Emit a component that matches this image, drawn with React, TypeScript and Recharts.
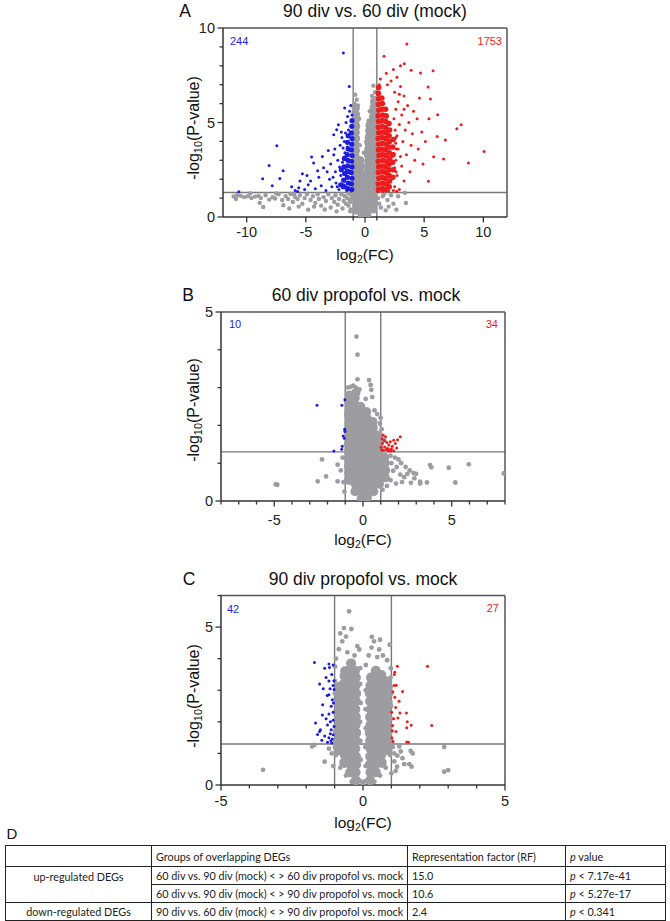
import React from "react";
import { ScatterChart, Scatter, XAxis, YAxis, ReferenceLine } from "recharts";

type Pt = [number, number];

// ---------- panel A: 90 div vs. 60 div (mock) ----------
const aGrayCore: Pt[] = [
  [-0.78, 0.35], [-0.74, 0.68], [-0.8, 1.0], [-0.76, 1.3], [-0.79, 1.62], [-0.75, 1.95], [-0.8, 2.25], [-0.77, 2.58], [-0.74, 2.9],
  [-0.79, 3.2], [-0.76, 3.52], [-0.8, 3.85], [-0.75, 4.15], [-0.78, 4.48], [-0.74, 4.8], [-0.79, 5.1], [-0.76, 5.42], [-0.78, 5.75],
  [-0.3, 0.15], [-0.27, 0.45], [-0.33, 0.78], [-0.29, 1.1], [-0.32, 1.4], [-0.28, 1.72], [-0.31, 2.05], [-0.34, 2.35], [-0.36, 2.7], [-0.4, 3.0],
  [0.2, 0.1], [0.24, 0.42], [0.21, 0.75], [0.25, 1.05], [0.2, 1.38], [0.23, 1.7], [0.26, 2.0], [0.21, 2.32], [0.24, 2.65], [0.27, 2.95],
  [0.25, 3.28], [0.28, 3.6], [0.3, 3.9], [0.32, 4.22], [0.35, 4.55], [0.38, 4.85],
  [0.7, 0.4], [0.74, 0.72], [0.71, 1.05], [0.75, 1.35], [0.72, 1.68], [0.7, 2.0], [0.74, 2.3], [0.73, 2.62], [0.71, 2.95], [0.75, 3.25],
  [0.72, 3.58], [0.74, 3.9], [0.7, 4.2], [0.73, 4.52], [0.75, 4.85], [0.72, 5.15], [0.74, 5.48], [0.73, 5.8], [0.76, 6.1],
];
const aGray: Pt[] = [
  [-0.82, 6.47], [-0.7, 6.2], [-0.9, 6.0], [-0.6, 5.9], [-0.95, 5.5], [-0.5, 5.2], [0.71, 6.95], [0.85, 6.6], [0.6, 6.4], [0.9, 6.3],
  [0.4, 5.6], [0.5, 5.3], [0.3, 5.1], [0.1, 4.0], [-0.1, 3.4], [-0.45, 3.8], [0.95, 5.9], [0.95, 5.0], [-0.98, 4.8], [-0.98, 3.9],
  [-0.98, 2.6], [0.97, 4.2], [0.97, 3.1], [0.97, 2.0], [-1.1, 1.0], [-1.25, 0.8], [-1.4, 0.6], [-1.2, 0.4], [1.1, 1.0], [1.2, 0.7],
  [1.35, 0.5], [1.5, 1.1], [0.0, 0.02], [-0.1, 0.2], [0.1, 0.25], [1.75, 0.35], [2.65, 0.39], [3.46, 0.74], [3.37, 1.28], [2.2, 1.15],
  [1.9, 0.9], [2.4, 0.7], [1.6, 1.2], [2.8, 1.1], [2.0, 0.55],
  [-11.1, 1.09], [-10.8, 1.15], [-10.5, 1.12], [-10.2, 1.05], [-9.9, 1.1], [-9.6, 1.0], [-9.3, 1.08], [-9.0, 1.12], [-8.8, 1.0],
  [-8.6, 0.53], [-8.4, 1.15], [-8.1, 0.92], [-7.8, 1.05], [-7.6, 0.98], [-7.3, 1.2], [-7.0, 0.9], [-6.9, 0.62], [-6.7, 1.1],
  [-6.5, 0.95], [-6.3, 1.22], [-6.1, 0.8], [-5.9, 1.05], [-5.7, 0.95], [-5.5, 1.15], [-5.3, 0.7], [-5.1, 1.0], [-4.9, 1.2],
  [-4.8, 0.39], [-4.6, 0.9], [-4.4, 1.1], [-4.2, 0.75], [-4.0, 1.2], [-3.9, 0.95], [-3.7, 0.6], [-3.5, 1.05], [-3.3, 0.85],
  [-3.1, 1.2], [-2.9, 0.5], [-2.8, 1.0], [-2.6, 0.8], [-2.5, 1.15], [-2.3, 0.65], [-2.2, 0.95], [-2.0, 1.2], [-1.9, 0.45],
  [-1.8, 0.85], [-1.7, 1.1], [-1.6, 0.7], [-1.5, 1.0], [-1.4, 1.25], [-1.3, 0.9], [-1.25, 0.3], [-1.15, 1.15], [-6.0, 1.2],
  [-7.5, 1.25], [-9.7, 1.25], [-8.9, 0.75], [-5.6, 0.55], [-3.4, 0.4], [-2.4, 0.3], [-4.3, 0.55], [-6.4, 0.45], [-10.9, 0.95],
];
const aBlueCore: Pt[] = [
  [-1.12, 1.45], [-1.15, 1.75], [-1.1, 2.05], [-1.16, 2.35], [-1.1, 2.65], [-1.14, 2.95], [-1.1, 3.25], [-1.15, 3.55], [-1.12, 3.85],
  [-1.1, 4.15], [-1.16, 4.45], [-1.12, 4.8], [-1.1, 5.1],
  [-1.45, 1.5], [-1.42, 1.8], [-1.48, 2.1], [-1.4, 2.4], [-1.46, 2.7], [-1.44, 3.0], [-1.5, 3.3], [-1.42, 3.6], [-1.48, 3.95], [-1.42, 4.3],
  [-1.75, 1.6], [-1.8, 1.95], [-1.72, 2.3], [-1.78, 2.65], [-1.74, 3.1], [-2.05, 1.7], [-2.0, 2.5],
];
const aBlue: Pt[] = [
  [-10.66, 1.33], [-8.65, 2.03], [-8.1, 2.73], [-7.84, 1.66], [-7.45, 3.77], [-7.2, 2.04], [-6.92, 2.45], [-5.9, 1.4], [-5.6, 1.55],
  [-5.29, 2.29], [-5.1, 1.45], [-4.8, 1.7], [-4.51, 3.17], [-4.34, 2.86], [-4.6, 1.9], [-4.2, 1.5], [-3.9, 2.1], [-3.7, 1.65],
  [-3.5, 2.6], [-3.3, 1.4], [-3.1, 3.52], [-3.0, 2.0], [-2.9, 2.8], [-2.8, 1.6], [-2.64, 3.3], [-2.64, 4.35], [-2.5, 2.4],
  [-2.45, 1.8], [-2.39, 4.62], [-2.25, 4.88], [-2.3, 3.0], [-2.2, 1.45], [-2.1, 3.8], [-2.05, 2.2], [-1.95, 4.2], [-1.9, 2.9],
  [-1.83, 8.68], [-1.72, 5.77], [-1.7, 3.4], [-1.6, 5.0], [-1.47, 5.32], [-1.4, 4.6], [-1.33, 6.91], [-1.3, 5.6], [-1.2, 5.9],
  [-1.1, 5.4], [-1.8, 1.7], [-1.6, 2.5], [-1.75, 4.0], [-1.55, 1.4], [-3.6, 3.2], [-4.0, 2.45], [-5.5, 1.9], [-6.2, 1.6],
  [-2.7, 2.1], [-3.2, 2.4], [-2.15, 2.65], [-1.9, 1.55], [-2.35, 1.6], [-5.7, 1.35], [-4.9, 2.2], [-2.55, 3.6], [-2.0, 4.5],
  [-1.85, 3.65], [-1.65, 4.45], [-1.5, 3.7],
];
const aRedCore: Pt[] = [
  [1.15, 1.45], [1.12, 1.75], [1.17, 2.05], [1.13, 2.35], [1.16, 2.65], [1.12, 2.95], [1.18, 3.25], [1.14, 3.55], [1.16, 3.85],
  [1.12, 4.15], [1.17, 4.45], [1.13, 4.75], [1.15, 5.05], [1.12, 5.35], [1.17, 5.65], [1.14, 5.95], [1.16, 6.25], [1.13, 6.55], [1.15, 6.85],
  [1.45, 1.5], [1.48, 1.8], [1.43, 2.1], [1.47, 2.4], [1.44, 2.7], [1.49, 3.0], [1.45, 3.3], [1.42, 3.6], [1.47, 3.9], [1.44, 4.2],
  [1.48, 4.5], [1.43, 4.8], [1.46, 5.1], [1.49, 5.4], [1.44, 5.7], [1.47, 6.0], [1.42, 6.3],
  [1.75, 1.45], [1.78, 1.75], [1.73, 2.05], [1.77, 2.35], [1.74, 2.65], [1.79, 2.95], [1.75, 3.25], [1.72, 3.55], [1.77, 3.85],
  [1.74, 4.15], [1.78, 4.45], [1.73, 4.75], [1.76, 5.05], [1.79, 5.35], [1.74, 5.7],
  [2.05, 1.6], [2.08, 1.9], [2.03, 2.2], [2.07, 2.5], [2.04, 2.8], [2.09, 3.1], [2.05, 3.4], [2.02, 3.7], [2.07, 4.0], [2.04, 4.3],
  [2.08, 4.6], [2.03, 4.95], [2.35, 2.1], [2.38, 2.5], [2.33, 2.9], [2.37, 3.3], [2.34, 3.7], [2.39, 4.1],
];
const aRed: Pt[] = [
  [3.54, 9.15], [1.61, 8.5], [3.32, 8.11], [3.9, 7.76], [4.69, 7.62], [5.75, 7.74], [5.33, 6.88], [5.53, 6.24], [5.4, 5.2],
  [6.14, 5.41], [8.13, 4.88], [7.76, 4.67], [6.1, 4.26], [6.79, 4.07], [10.06, 3.47], [5.8, 3.19], [6.64, 3.07], [8.74, 2.86],
  [5.36, 1.89], [2.7, 7.4], [2.2, 7.2], [1.3, 7.3], [1.9, 7.0], [3.0, 6.9], [2.5, 6.6], [3.3, 6.4], [2.8, 6.1], [3.6, 5.9],
  [4.1, 5.6], [2.6, 5.7], [3.1, 5.4], [3.7, 5.0], [4.4, 5.2], [2.9, 4.9], [3.4, 4.6], [4.0, 4.4], [4.8, 4.5], [2.7, 4.3],
  [3.2, 4.0], [3.9, 3.8], [4.5, 3.6], [2.8, 3.6], [3.5, 3.3], [4.2, 3.0], [2.6, 3.0], [3.1, 2.7], [3.8, 2.4], [2.7, 2.2],
  [3.3, 1.9], [2.5, 1.6], [2.9, 1.45], [2.68, 1.36], [2.4, 1.4], [4.9, 2.8], [5.1, 4.0], [4.6, 6.3], [3.0, 8.0], [2.4, 7.8],
  [1.8, 7.6], [1.2, 7.0], [2.45, 5.2], [2.55, 4.6], [2.6, 3.9], [2.5, 2.6], [3.0, 3.2], [3.3, 5.7], [2.9, 6.5], [1.05, 6.6],
  [1.05, 1.35], [1.5, 1.35], [2.0, 1.38], [2.62, 2.4], [2.64, 3.6], [2.6, 4.2],
];

// ---------- panel B: 60 div propofol vs. mock ----------
const bGrayCore: Pt[] = [
  [-0.8, 0.55], [-0.78, 0.74], [-0.82, 0.93], [-0.79, 1.12], [-0.81, 1.31], [-0.78, 1.5], [-0.8, 1.69], [-0.82, 1.88], [-0.79, 2.07],
  [-0.8, 2.26], [-0.78, 2.45], [-0.81, 2.64], [-0.77, 2.8],
  [-0.45, 0.25], [-0.43, 0.44], [-0.46, 0.63], [-0.44, 0.82], [-0.47, 1.01], [-0.45, 1.2], [-0.43, 1.39], [-0.46, 1.58], [-0.44, 1.77],
  [-0.45, 1.96], [-0.47, 2.15], [-0.44, 2.34], [-0.46, 2.53], [-0.45, 2.72], [-0.41, 2.86],
  [-0.1, 0.06], [-0.12, 0.24], [-0.09, 0.43], [-0.11, 0.62], [-0.1, 0.81], [-0.08, 1.0], [-0.11, 1.19], [-0.1, 1.38], [-0.12, 1.57],
  [-0.09, 1.76], [-0.11, 1.95], [-0.1, 2.14], [-0.12, 2.33], [-0.14, 2.5],
  [0.24, 0.1], [0.26, 0.29], [0.25, 0.48], [0.23, 0.67], [0.26, 0.86], [0.24, 1.05], [0.25, 1.24], [0.27, 1.43], [0.24, 1.62],
  [0.26, 1.81], [0.25, 2.0], [0.23, 2.19], [0.2, 2.36],
  [0.6, 0.25], [0.58, 0.44], [0.61, 0.63], [0.59, 0.82], [0.62, 1.01], [0.6, 1.2], [0.58, 1.39], [0.61, 1.58], [0.6, 1.77], [0.57, 1.94], [0.55, 2.1],
  [0.92, 0.45], [0.94, 0.64], [0.91, 0.83], [0.93, 1.02], [0.92, 1.21], [0.9, 1.4], [0.9, 1.57], [0.87, 1.74],
  [1.25, 0.62], [1.27, 0.81], [1.24, 1.0], [1.22, 1.15],
];
const bGray: Pt[] = [
  [-0.37, 4.35], [-0.31, 3.87], [-0.31, 3.22], [0.34, 3.2], [0.43, 3.07], [0.47, 2.94], [0.52, 2.75], [0.99, 2.2], [0.95, 2.05],
  [-0.85, 3.0], [-0.7, 3.02], [-0.55, 3.05], [-0.4, 3.0], [-0.2, 2.95], [-0.92, 2.7], [-0.95, 2.3], [-0.96, 1.9], [-0.95, 1.5],
  [-0.95, 1.1], [-0.93, 0.75], [0.15, 2.7], [0.65, 2.4], [0.8, 2.3], [1.05, 1.9], [1.2, 1.6], [1.4, 1.35], [1.55, 1.2], [1.6, 1.0],
  [1.7, 0.8], [1.55, 0.55], [1.35, 0.4], [1.1, 0.3],
  [1.86, 0.46], [1.9, 0.9], [2.0, 1.1], [2.1, 0.7], [2.2, 0.5], [2.32, 0.63], [2.5, 0.72], [2.63, 0.81], [2.7, 0.48], [2.85, 0.74],
  [2.89, 0.6], [2.99, 0.72], [3.22, 0.46], [3.22, 0.51], [3.6, 0.49], [3.78, 0.95], [3.85, 0.89], [4.83, 0.88], [5.2, 0.49],
  [5.96, 0.97], [7.93, 0.73], [2.4, 0.9], [1.8, 1.15], [2.15, 1.0],
  [-4.92, 0.44], [-4.83, 0.43], [-2.55, 0.52], [-2.08, 0.65], [-2.31, 1.1], [-1.43, 0.52], [-1.25, 0.81], [-1.43, 0.96],
  [-1.1, 0.5], [-1.15, 1.15], [-1.05, 0.25], [0.0, 0.02], [-0.2, 0.05], [0.2, 0.05],
];
const bBlue: Pt[] = [
  [-2.59, 2.53], [-1.19, 2.53], [-1.02, 2.68], [-1.03, 1.9], [-1.02, 1.84], [-1.12, 1.72], [-1.05, 1.66], [-1.17, 1.45], [-1.2, 1.37], [-1.64, 1.32],
];
const bRed: Pt[] = [
  [1.14, 1.74], [1.27, 1.7], [1.73, 1.61], [2.1, 1.7], [1.1, 1.52], [1.23, 1.43], [1.38, 1.39], [1.45, 1.48], [1.54, 1.57],
  [1.82, 1.52], [1.05, 1.35], [1.73, 1.33], [1.3, 1.36], [1.5, 1.34], [1.6, 1.38], [1.65, 1.45], [1.2, 1.6], [1.9, 1.4],
  [1.02, 1.42], [1.35, 1.55], [1.95, 1.62], [1.08, 1.65], [1.58, 1.32], [1.42, 1.33], [1.15, 1.34],
];

// ---------- panel C: 90 div propofol vs. mock ----------
const cGrayCore: Pt[] = [
  [-0.86, 1.1], [-0.88, 1.35], [-0.85, 1.6], [-0.87, 1.85], [-0.86, 2.1], [-0.84, 2.35], [-0.87, 2.6], [-0.85, 2.85], [-0.86, 3.1],
  [-0.66, 0.7], [-0.64, 0.95], [-0.67, 1.2], [-0.65, 1.45], [-0.68, 1.7], [-0.66, 1.95], [-0.64, 2.2], [-0.67, 2.45], [-0.65, 2.7],
  [-0.66, 2.95], [-0.68, 3.2], [-0.65, 3.45], [-0.63, 3.6],
  [-0.45, 0.4], [-0.43, 0.65], [-0.46, 0.9], [-0.44, 1.15], [-0.45, 1.4], [-0.47, 1.65], [-0.44, 1.9], [-0.43, 2.15], [-0.46, 2.4],
  [-0.45, 2.65], [-0.44, 2.9], [-0.46, 3.15], [-0.43, 3.4], [-0.45, 3.65], [-0.42, 3.85],
  [-0.25, 0.15], [-0.26, 0.4], [-0.24, 0.65], [-0.25, 0.9], [-0.27, 1.15], [-0.25, 1.4], [-0.24, 1.65], [-0.26, 1.9], [-0.25, 2.15],
  [-0.27, 2.4], [-0.25, 2.65], [-0.24, 2.9], [-0.26, 3.15], [-0.25, 3.4], [-0.28, 3.62],
  [0.25, 0.15], [0.26, 0.4], [0.24, 0.65], [0.25, 0.9], [0.27, 1.15], [0.25, 1.4], [0.24, 1.65], [0.26, 1.9], [0.25, 2.15],
  [0.27, 2.4], [0.25, 2.65], [0.24, 2.9], [0.26, 3.15], [0.28, 3.4],
  [0.45, 0.4], [0.43, 0.65], [0.46, 0.9], [0.44, 1.15], [0.45, 1.4], [0.47, 1.65], [0.44, 1.9], [0.43, 2.15], [0.46, 2.4],
  [0.45, 2.65], [0.44, 2.9], [0.46, 3.15], [0.43, 3.4], [0.45, 3.62],
  [0.66, 0.7], [0.64, 0.95], [0.67, 1.2], [0.65, 1.45], [0.68, 1.7], [0.66, 1.95], [0.64, 2.2], [0.67, 2.45], [0.65, 2.7],
  [0.66, 2.95], [0.68, 3.2], [0.65, 3.48],
  [0.86, 1.1], [0.88, 1.35], [0.85, 1.6], [0.87, 1.85], [0.86, 2.1], [0.84, 2.35], [0.87, 2.6], [0.86, 2.85], [0.88, 3.1], [0.85, 3.28],
];
const cGray: Pt[] = [
  [-0.49, 5.5], [-0.67, 4.97], [-0.41, 4.94], [0.31, 4.69], [0.39, 4.55], [-0.13, 4.29], [0.57, 4.29], [0.94, 4.44], [-0.73, 4.55],
  [-0.85, 4.3], [-0.55, 4.2], [-0.3, 4.1], [-0.95, 4.0], [-0.2, 4.4], [0.5, 4.05], [0.2, 4.1], [0.7, 4.1], [0.85, 3.95], [0.1, 3.8],
  [-0.1, 3.7], [-0.98, 3.75], [0.98, 3.7], [0.97, 3.4], [-0.99, 3.3], [0.6, 4.6], [-0.6, 4.7], [0.3, 4.35], [-0.8, 4.8],
  [-0.1, 3.2], [-0.08, 2.6], [-0.1, 2.0], [-0.09, 1.4], [-0.08, 0.8], [0.1, 3.0], [0.09, 2.4], [0.1, 1.8], [0.08, 1.2], [0.09, 0.6],
  [1.0, 2.9], [0.99, 2.5], [0.98, 2.1], [0.98, 1.7], [0.99, 1.4], [-0.99, 2.9], [-0.99, 2.3], [-0.98, 1.7], [-0.99, 1.2],
  [2.86, 1.2], [1.27, 1.22], [1.33, 1.06], [1.21, 0.93], [1.1, 0.75], [1.68, 1.08], [1.45, 0.66], [1.63, 0.66], [1.71, 0.58],
  [1.2, 0.58], [2.86, 0.42], [3.0, 0.47], [1.0, 0.37], [1.1, 1.0], [1.75, 1.0], [1.39, 0.85], [1.05, 1.2], [1.15, 0.45],
  [-1.79, 1.22], [-1.71, 1.27], [-1.35, 0.74], [-3.52, 0.48], [-1.1, 1.0], [-1.05, 0.6], [-1.2, 1.15],
  [-0.95, 0.95], [-0.8, 0.55], [-0.6, 0.3], [-0.4, 0.1], [0.95, 0.95], [0.8, 0.55], [0.6, 0.3], [0.4, 0.1], [0.0, 0.05], [-0.08, 0.12], [0.08, 0.12],
];
const cBlue: Pt[] = [
  [-1.71, 3.88], [-1.35, 3.7], [-1.2, 3.83], [-1.18, 3.72], [-1.53, 3.2], [-1.2, 3.29], [-1.26, 2.83], [-1.2, 2.86], [-1.42, 2.54],
  [-1.12, 2.49], [-1.2, 2.25], [-1.43, 2.22], [-1.05, 2.3], [-1.67, 1.96], [-1.53, 1.69], [-1.5, 1.75], [-1.12, 1.75], [-1.05, 1.59],
  [-1.13, 1.4], [-1.02, 3.02], [-1.1, 3.5], [-1.05, 3.15], [-1.08, 2.7], [-1.3, 2.1], [-1.25, 1.9], [-1.15, 2.0], [-1.02, 1.85],
  [-1.35, 1.55], [-1.2, 1.5], [-1.1, 1.33], [-1.25, 1.35], [-1.6, 1.6], [-1.45, 1.42], [-1.05, 2.05], [-1.04, 2.6], [-1.16, 3.05],
  [-1.3, 3.4], [-1.02, 3.3], [-1.15, 1.62], [-1.08, 1.46], [-1.4, 3.05], [-1.05, 3.8],
];
const cRed: Pt[] = [
  [2.27, 3.76], [1.21, 3.76], [1.12, 3.57], [1.1, 3.5], [1.1, 3.15], [1.17, 3.16], [1.39, 2.96], [1.12, 2.78], [1.27, 2.65],
  [1.01, 2.3], [1.3, 2.28], [1.53, 2.28], [1.23, 2.12], [1.56, 2.0], [1.7, 1.89], [2.42, 1.88], [1.04, 1.88], [1.54, 1.81],
  [1.16, 1.69], [1.03, 1.72], [1.54, 1.36], [1.6, 1.35], [1.06, 1.38], [1.05, 2.95], [1.15, 2.45], [1.08, 2.1], [1.02, 1.5],
];

// axis ticks
const aXTicks = [-10, -5, -1, 0, 1, 5, 10];
const aXLabels = [-10, -5, 0, 5, 10];
const aYTicks = [0, 1, 2, 3, 4, 5, 6, 7, 8, 9, 10];
const aYLabels = [0, 5, 10];
const bXTicks = [-8, -7, -6, -5, -4, -3, -2, -1, 0, 1, 2, 3, 4, 5, 6, 7, 8];
const bXLabels = [-5, 0, 5];
const bYTicks = [0, 1, 2, 3, 4, 5];
const bYLabels = [0, 5];
const cXTicks = [-5, -4, -3, -2, -1, 0, 1, 2, 3, 4, 5];
const cXLabels = [-5, 0, 5];
const cYTicks = [0, 1, 2, 3, 4, 5, 6];
const cYLabels = [0, 5];

// table D
const tableHeader = ["Groups of overlapping DEGs", "Representation factor (RF)"];
const tableGroups = [
  "60 div vs. 90 div (mock) < > 60 div propofol vs. mock",
  "60 div vs. 90 div (mock) < > 90 div propofol vs. mock",
  "90 div vs. 60 div (mock) < > 90 div propofol vs. mock",
];
const tableRF = ["15.0", "10.6", "2.4"];
const tablePValues = ["< 7.17e-41", "< 5.27e-17", "< 0.341"];
const tableDirections = ["up-regulated DEGs", "down-regulated DEGs"];

const FONT = '"Liberation Sans", Arial, Helvetica, sans-serif';
const GRAY = "#9c9ca1";
const BLUE = "#1c1ce0";
const RED = "#ee1d1d";
const AXIS = "#333";
const REF = "#7a7a7a";

type Layer = { data: Pt[]; r: number; fill: string };
type Rect = { left: number; right: number; top: number; bottom: number };

function Volcano(props: {
  top: number;
  height: number;
  plot: Rect;
  xDomain: [number, number];
  yDomain: [number, number];
  xTicks: number[];
  xLabels: number[];
  yTicks: number[];
  yLabels: number[];
  labelGap: number;
  layers: Layer[];
}) {
  const { top, height, plot, xDomain, yDomain, xTicks, xLabels, yTicks, yLabels, labelGap, layers } = props;
  const yW = 40;
  const xH = 30;
  const margin = {
    top: plot.top - top,
    left: plot.left - yW,
    right: 670 - plot.right,
    bottom: top + height - plot.bottom - xH,
  };

  const xTick = (p: any) => {
    const major = xLabels.includes(p.payload.value);
    return (
      <g>
        <line x1={p.x} x2={p.x} y1={p.y} y2={p.y + (major ? 5.5 : 3.5)} stroke={AXIS} strokeWidth={1.3} />
        {major && (
          <text x={p.x} y={p.y + labelGap} textAnchor="middle" fontSize={14.5} fill="#222" fontFamily={FONT}>
            {p.payload.value}
          </text>
        )}
      </g>
    );
  };
  const yTick = (p: any) => {
    const major = yLabels.includes(p.payload.value);
    return (
      <g>
        <line x1={p.x} x2={p.x - (major ? 5.5 : 3.5)} y1={p.y} y2={p.y} stroke={AXIS} strokeWidth={1.3} />
        {major && (
          <text x={p.x - 8} y={p.y + 5} textAnchor="end" fontSize={14.5} fill="#222" fontFamily={FONT}>
            {p.payload.value}
          </text>
        )}
      </g>
    );
  };

  return (
    <div style={{ position: "absolute", left: 0, top, width: 670, height }}>
      <ScatterChart width={670} height={height} margin={margin}>
        <XAxis
          type="number"
          dataKey="x"
          domain={xDomain}
          ticks={xTicks}
          interval={0}
          allowDataOverflow
          height={xH}
          tickSize={0}
          tickMargin={0}
          tickLine={false}
          tick={xTick}
          axisLine={{ stroke: AXIS, strokeWidth: 1.5 }}
        />
        <YAxis
          type="number"
          dataKey="y"
          domain={yDomain}
          ticks={yTicks}
          interval={0}
          allowDataOverflow
          width={yW}
          tickSize={0}
          tickMargin={0}
          tickLine={false}
          tick={yTick}
          axisLine={{ stroke: AXIS, strokeWidth: 1.5 }}
        />
        {layers.map((l, i) => (
          <Scatter
            key={i}
            data={l.data.map(([x, y]) => ({ x, y }))}
            isAnimationActive={false}
            shape={(s: any) => <circle cx={s.cx} cy={s.cy} r={l.r} fill={l.fill} />}
          />
        ))}
        <ReferenceLine x={-1} stroke={REF} strokeWidth={1.4} />
        <ReferenceLine x={1} stroke={REF} strokeWidth={1.4} />
        <ReferenceLine y={1.3} stroke={REF} strokeWidth={1.4} />
        <ReferenceLine y={yDomain[1]} stroke="#555" strokeWidth={1.5} />
        <ReferenceLine x={xDomain[1]} stroke="#555" strokeWidth={1.5} />
      </ScatterChart>
    </div>
  );
}

function Txt(props: {
  x: number;
  y: number;
  size: number;
  color?: string;
  anchor?: "start" | "middle" | "end";
  rotate?: boolean;
  children: React.ReactNode;
}) {
  const { x, y, size, color = "#111", anchor = "middle", rotate, children } = props;
  const tx = anchor === "start" ? "0" : anchor === "end" ? "-100%" : "-50%";
  return (
    <div
      style={{
        position: "absolute",
        left: x,
        top: y,
        fontSize: size,
        color,
        lineHeight: 1,
        whiteSpace: "nowrap",
        fontFamily: FONT,
        transform: rotate ? "translate(-50%, -50%) rotate(-90deg)" : `translate(${tx}, -50%)`,
      }}
    >
      {children}
    </div>
  );
}

const sub = { fontSize: "0.68em", verticalAlign: "-0.3em", lineHeight: 0 };
const XLabel = () => (
  <>
    log<span style={sub}>2</span>(FC)
  </>
);
const YLabel = () => (
  <>
    -log<span style={sub}>10</span>(P-value)
  </>
);

const cell: React.CSSProperties = {
  border: "1px solid #222",
  padding: "0 4px",
  textAlign: "left",
  whiteSpace: "nowrap",
  overflow: "hidden",
  fontWeight: 400,
};

export default function App() {
  const aPlot = { left: 223, right: 507, top: 28, bottom: 217 };
  const bPlot = { left: 221, right: 505, top: 312, bottom: 501 };
  const cPlot = { left: 221, right: 505, top: 595.5, bottom: 785 };
  return (
    <div style={{ position: "absolute", left: 0, top: 0, width: 670, height: 921, background: "#fff", overflow: "hidden" }}>
      <Volcano
        top={0}
        height={250}
        plot={aPlot}
        xDomain={[-12, 12]}
        yDomain={[0, 10]}
        xTicks={aXTicks}
        xLabels={aXLabels}
        yTicks={aYTicks}
        yLabels={aYLabels}
        labelGap={20}
        layers={[
          { data: aGrayCore, r: 4, fill: GRAY },
          { data: aGray, r: 2.2, fill: GRAY },
          { data: aBlueCore, r: 2.6, fill: BLUE },
          { data: aBlue, r: 1.5, fill: BLUE },
          { data: aRedCore, r: 2.8, fill: RED },
          { data: aRed, r: 1.5, fill: RED },
        ]}
      />
      <Volcano
        top={280}
        height={260}
        plot={bPlot}
        xDomain={[-8, 8]}
        yDomain={[0, 5]}
        xTicks={bXTicks}
        xLabels={bXLabels}
        yTicks={bYTicks}
        yLabels={bYLabels}
        labelGap={24}
        layers={[
          { data: bGrayCore, r: 4.7, fill: GRAY },
          { data: bGray, r: 2.4, fill: GRAY },
          { data: bBlue, r: 1.5, fill: BLUE },
          { data: bRed, r: 1.5, fill: RED },
        ]}
      />
      <Volcano
        top={565}
        height={255}
        plot={cPlot}
        xDomain={[-5, 5]}
        yDomain={[0, 6]}
        xTicks={cXTicks}
        xLabels={cXLabels}
        yTicks={cYTicks}
        yLabels={cYLabels}
        labelGap={21}
        layers={[
          { data: cGrayCore, r: 5, fill: GRAY },
          { data: cGray, r: 2.4, fill: GRAY },
          { data: cBlue, r: 1.5, fill: BLUE },
          { data: cRed, r: 1.5, fill: RED },
        ]}
      />

      {/* panel letters and titles */}
      <Txt x={185} y={12} size={17.5}>A</Txt>
      <Txt x={375} y={12} size={17.5}>90 div vs. 60 div (mock)</Txt>
      <Txt x={188} y={296} size={17.5}>B</Txt>
      <Txt x={366} y={296} size={17.5}>60 div propofol vs. mock</Txt>
      <Txt x={189} y={580} size={17.5}>C</Txt>
      <Txt x={363} y={580} size={17.5}>90 div propofol vs. mock</Txt>

      {/* DEG counts */}
      <Txt x={230} y={41} size={11} color={BLUE} anchor="start">244</Txt>
      <Txt x={502} y={41} size={11} color={RED} anchor="end">1753</Txt>
      <Txt x={229} y={324} size={11} color={BLUE} anchor="start">10</Txt>
      <Txt x={498} y={324} size={11} color={RED} anchor="end">34</Txt>
      <Txt x={227} y={609} size={11} color={BLUE} anchor="start">42</Txt>
      <Txt x={499} y={608} size={11} color={RED} anchor="end">27</Txt>

      {/* axis titles */}
      <Txt x={365} y={255} size={15.5}><XLabel /></Txt>
      <Txt x={363} y={540} size={15.5}><XLabel /></Txt>
      <Txt x={363} y={823} size={15.5}><XLabel /></Txt>
      <Txt x={194} y={128} size={16} rotate><YLabel /></Txt>
      <Txt x={194} y={410} size={16} rotate><YLabel /></Txt>
      <Txt x={194} y={696} size={16} rotate><YLabel /></Txt>

      {/* table D */}
      <Txt x={12} y={833} size={15}>D</Txt>
      <table
        style={{
          position: "absolute",
          left: 5,
          top: 845,
          width: 660,
          borderCollapse: "collapse",
          tableLayout: "fixed",
          fontFamily: "Lato, 'Open Sans', sans-serif",
          fontSize: 10.8,
          color: "#222",
        }}
      >
        <colgroup>
          <col style={{ width: 146 }} />
          <col style={{ width: 256 }} />
          <col style={{ width: 158 }} />
          <col style={{ width: 100 }} />
        </colgroup>
        <tbody>
          <tr style={{ height: 21 }}>
            <td style={cell}></td>
            <td style={cell}>{tableHeader[0]}</td>
            <td style={cell}>{tableHeader[1]}</td>
            <td style={cell}>
              <i>p</i> value
            </td>
          </tr>
          <tr style={{ height: 18 }}>
            <td style={{ ...cell, textAlign: "center", verticalAlign: "top", paddingTop: 3 }} rowSpan={2}>
              {tableDirections[0]}
            </td>
            <td style={cell}>{tableGroups[0]}</td>
            <td style={cell}>{tableRF[0]}</td>
            <td style={cell}>
              <i>p</i> {tablePValues[0]}
            </td>
          </tr>
          <tr style={{ height: 18 }}>
            <td style={cell}>{tableGroups[1]}</td>
            <td style={cell}>{tableRF[1]}</td>
            <td style={cell}>
              <i>p</i> {tablePValues[1]}
            </td>
          </tr>
          <tr style={{ height: 18 }}>
            <td style={{ ...cell, textAlign: "center" }}>{tableDirections[1]}</td>
            <td style={cell}>{tableGroups[2]}</td>
            <td style={cell}>{tableRF[2]}</td>
            <td style={cell}>
              <i>p</i> {tablePValues[2]}
            </td>
          </tr>
        </tbody>
      </table>
    </div>
  );
}
